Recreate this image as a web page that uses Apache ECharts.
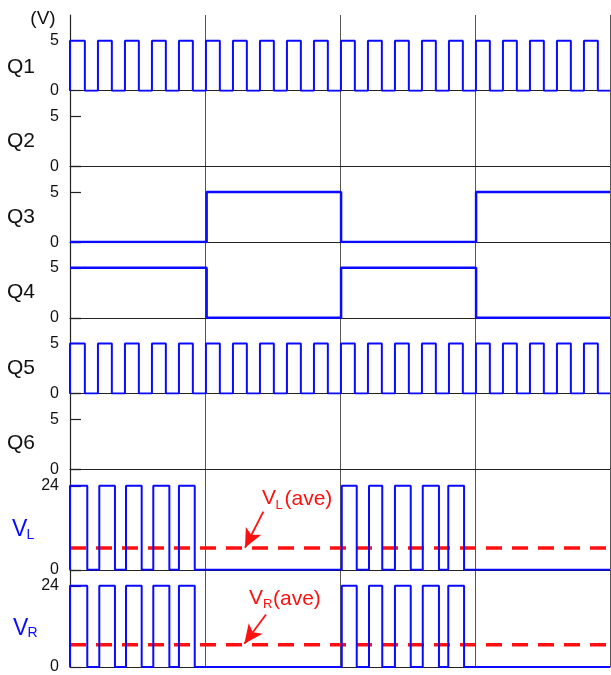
<!DOCTYPE html>
<html><head><meta charset="utf-8">
<script src="https://cdn.jsdelivr.net/npm/echarts@6/dist/echarts.min.js"></script>
<style>html,body{margin:0;padding:0;background:#fff}#c{width:611px;height:675px}</style>
</head><body><div id="c"></div>
<script>
// ---- data (time in switching-cycle units, 4 cycles) ----
const timeRange = [0, 4];
const panelNames = ['Q1','Q2','Q3','Q4','Q5','Q6','VL','VR'];
const gateHigh = 5;          // V
const bridgeHigh = 24;       // V
const gateTickLabels = [0, 5];
const bridgeTickLabels = [0, 24];

const q1Rise = [0, 0.207, 0.407, 0.607, 0.807, 1.007, 1.207, 1.407, 1.607, 1.807,
                2.007, 2.207, 2.407, 2.607, 2.807, 3.007, 3.207, 3.407, 3.607, 3.807];
const q1Fall = [0.11, 0.31, 0.51, 0.71, 0.91, 1.11, 1.31, 1.51, 1.71, 1.91,
                2.11, 2.31, 2.51, 2.71, 2.91, 3.11, 3.31, 3.51, 3.71, 3.91];
const q5Rise = [0, 0.207, 0.407, 0.607, 0.807, 1.007, 1.207, 1.407, 1.607, 1.807,
                2.007, 2.207, 2.407, 2.607, 2.807, 3.007, 3.207, 3.407, 3.607, 3.807];
const q5Fall = [0.11, 0.31, 0.51, 0.71, 0.91, 1.11, 1.31, 1.51, 1.71, 1.91,
                2.11, 2.31, 2.51, 2.71, 2.91, 3.11, 3.31, 3.51, 3.71, 3.91];
const q3Edges = [1.012, 2.008, 3.008];
const q3Levels = [0, 5, 0, 5];
const q4Edges = [1.012, 2.008, 3.008];
const q4Levels = [5, 0, 5, 0];
const vlRise = [0, 0.217, 0.415, 0.617, 0.807, 2.013, 2.215, 2.407, 2.613, 2.802];
const vlFall = [0.128, 0.333, 0.531, 0.736, 0.924, 2.124, 2.313, 2.524, 2.733, 2.919];
const vrRise = [0, 0.217, 0.415, 0.617, 0.807, 2.013, 2.215, 2.407, 2.613, 2.802];
const vrFall = [0.128, 0.333, 0.531, 0.736, 0.924, 2.124, 2.313, 2.524, 2.733, 2.919];
const vlAverage = 6.2;
const vrAverage = 6.6;
const vlArrow = [[1.432, 16.6], [1.296, 6.3]];
const vrArrow = [[1.452, 15.5], [1.291, 6.9]];

// ---- helpers to turn edges into step polylines ----
function pulseData(rise, fall, high) {
  const d = [[timeRange[0], 0]];
  for (let i = 0; i < rise.length; i++) {
    d.push([rise[i], 0], [rise[i], high], [fall[i], high], [fall[i], 0]);
  }
  d.push([timeRange[1], 0]);
  return d;
}
function levelData(edges, levels) {
  const d = [[timeRange[0], levels[0]]];
  for (let i = 0; i < edges.length; i++) {
    d.push([edges[i], levels[i]], [edges[i], levels[i + 1]]);
  }
  d.push([timeRange[1], levels[levels.length - 1]]);
  return d;
}

// ---- layout ----
const LEFT = 70, RIGHT = 1;
const gTop = 15, gH = 75.7, bH = 100.6;
const tops = [], heights = [];
let y = gTop;
for (let i = 0; i < 6; i++) { tops.push(y); heights.push(gH); y += gH; }
for (let i = 0; i < 2; i++) { tops.push(y); heights.push(bH); y += bH; }
const gateMax = gateHigh * gH / 50;       // 5 V spans 50 px
const bridgeMax = bridgeHigh * bH / 84;   // 24 V spans 84 px

const FONT = '"Liberation Sans", Arial, sans-serif';
const BLUE = '#0a0aff', RED = '#ff1010';

const grid = [], xAxis = [], yAxis = [];
panelNames.forEach((n, i) => {
  const isBridge = i >= 6;
  grid.push({ left: LEFT, right: RIGHT, top: tops[i], height: heights[i] });
  xAxis.push({
    type: 'value', gridIndex: i, min: timeRange[0], max: timeRange[1], interval: 1,
    axisLine: { show: true, lineStyle: { color: '#222', width: 1 } },
    axisTick: { show: false }, axisLabel: { show: false },
    splitLine: { show: true, lineStyle: { color: '#555', width: 1 } }
  });
  const labels = isBridge ? bridgeTickLabels : gateTickLabels;
  yAxis.push({
    type: 'value', gridIndex: i, min: 0, max: isBridge ? bridgeMax : gateMax,
    interval: labels[1],
    axisLine: { show: true, lineStyle: { color: '#222', width: 1.2 } },
    axisTick: { show: i !== 0, inside: true, length: 11, lineStyle: { color: '#222', width: 1.2 } },
    axisLabel: { show: true, customValues: labels, color: '#111', fontSize: 16, fontFamily: FONT, margin: 11 },
    splitLine: { show: false }
  });
});

function blue(idx, data, w) {
  return { type: 'line', xAxisIndex: idx, yAxisIndex: idx, data, showSymbol: false, symbol: 'none',
    z: 5, lineStyle: { color: BLUE, width: w || 2 } , silent: true };
}
function avg(idx, val, arrow) {
  return { type: 'line', xAxisIndex: idx, yAxisIndex: idx, data: [[timeRange[0], val], [timeRange[1], val]],
    symbol: 'none', z: 3, silent: true,
    lineStyle: { color: RED, width: 3.5, type: [16, 10] },
    markLine: { silent: true, symbol: ['none', 'arrow'], symbolSize: [13, 19], animation: false,
      label: { show: false }, lineStyle: { color: RED, width: 1.8, type: 'solid' },
      data: [[{ coord: arrow[0] }, { coord: arrow[1] }]] }
  };
}

const series = [
  blue(0, pulseData(q1Rise, q1Fall, gateHigh)),
  blue(2, levelData(q3Edges, q3Levels), 2.5),
  blue(3, levelData(q4Edges, q4Levels), 2.5),
  blue(4, pulseData(q5Rise, q5Fall, gateHigh)),
  avg(6, vlAverage, vlArrow),
  avg(7, vrAverage, vrArrow),
  blue(6, pulseData(vlRise, vlFall, bridgeHigh)),
  blue(7, pulseData(vrRise, vrFall, bridgeHigh))
];

function txt(t, x, yy, size, color, align) {
  return { type: 'text', x, y: yy, silent: true, z: 10,
    style: { text: t, fill: color, font: size + 'px ' + FONT, align: align || 'left', verticalAlign: 'middle' } };
}
const qLabelY = [67, 141, 217, 292, 368, 443];
const graphic = [txt('(V)', 43, 19, 19, '#111', 'center')];
qLabelY.forEach((yy, i) => graphic.push(txt(panelNames[i], 7, yy, 21, '#111')));
graphic.push(txt('V', 12, 530, 23, BLUE), txt('L', 26.5, 535.5, 14, BLUE));
graphic.push(txt('V', 13, 629, 23, BLUE), txt('R', 27.5, 633.5, 14, BLUE));
graphic.push(txt('V', 262, 498, 21, RED), txt('L', 275.5, 505, 13, RED), txt('(ave)', 284.5, 499, 21, RED));
graphic.push(txt('V', 249, 598, 21, RED), txt('R', 263, 604, 13, RED), txt('(ave)', 273, 599, 21, RED));

const chart = echarts.init(document.getElementById('c'), null, { renderer: 'canvas' });
chart.setOption({ animation: false, backgroundColor: '#fff', grid, xAxis, yAxis, series, graphic });
</script></body></html>
